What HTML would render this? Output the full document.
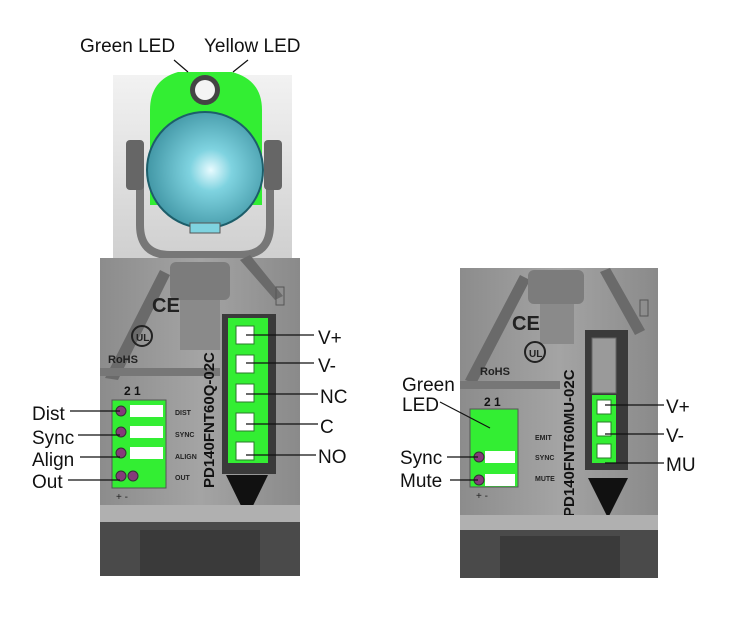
<!DOCTYPE html>
<html><head><meta charset="utf-8"><style>
html,body{margin:0;padding:0;background:#fff;width:730px;height:629px;overflow:hidden}
text{font-family:"Liberation Sans",Arial,sans-serif}
.lb{font-size:19px;fill:#111}
</style></head><body>
<svg width="730" height="629" viewBox="0 0 730 629" xmlns="http://www.w3.org/2000/svg">
<defs>
<linearGradient id="bg1" x1="0" y1="0" x2="0" y2="1"><stop offset="0" stop-color="#f2f2f2"/><stop offset="1" stop-color="#cfcfcf"/></linearGradient>
<radialGradient id="lens" cx="0.55" cy="0.5" r="0.6"><stop offset="0" stop-color="#e8fbff"/><stop offset="0.3" stop-color="#7fd3e0"/><stop offset="1" stop-color="#3a8f9e"/></radialGradient>
<linearGradient id="body" x1="0" y1="0" x2="1" y2="0"><stop offset="0" stop-color="#8c8c8c"/><stop offset="0.5" stop-color="#a4a4a4"/><stop offset="1" stop-color="#8a8a8a"/></linearGradient>
</defs>

<!-- LEFT DEVICE -->
<rect x="113" y="75" width="179" height="185" fill="url(#bg1)"/>
<path d="M140 150 L140 225 Q140 255 170 255 L240 255 Q270 255 270 225 L270 150" fill="none" stroke="#777" stroke-width="8"/>
<rect x="126" y="140" width="18" height="50" rx="4" fill="#666"/>
<rect x="264" y="140" width="18" height="50" rx="4" fill="#666"/>
<path d="M150 110 Q150 80 178 72 L232 72 Q262 80 262 110 L262 205 L150 205 Z" fill="#33ee33"/>
<circle cx="205" cy="90" r="15" fill="#444"/><circle cx="205" cy="90" r="10" fill="#f4f4f4"/>
<circle cx="205" cy="170" r="58" fill="url(#lens)" stroke="#1d5e6a" stroke-width="2"/>
<rect x="190" y="223" width="30" height="10" fill="#7fd3e0" stroke="#555"/>
<rect x="100" y="258" width="200" height="318" fill="url(#body)"/>
<path d="M105 378 L160 270 L170 275 L118 380 Z M275 300 L240 260 L250 255 L283 296 Z" fill="#6a6a6a"/>
<rect x="170" y="262" width="60" height="38" rx="6" fill="#7c7c7c"/>
<rect x="180" y="300" width="40" height="50" fill="#8a8a8a"/>
<text x="152" y="312" font-size="20" font-weight="bold" fill="#222">CE</text>
<circle cx="142" cy="336" r="10" fill="none" stroke="#222" stroke-width="2"/><text x="136" y="341" font-size="10" font-weight="bold" fill="#222">UL</text>
<text x="108" y="363" font-size="11" font-weight="bold" fill="#222">RoHS</text>
<rect x="100" y="368" width="120" height="8" fill="#777"/>
<rect x="276" y="287" width="8" height="18" fill="none" stroke="#555"/>
<text x="124" y="395" font-size="12" font-weight="bold" fill="#111">2  1</text>
<rect x="112" y="400" width="54" height="88" fill="#33ee33" stroke="#555"/>
<g fill="#fff"><rect x="130" y="405" width="33" height="12"/><rect x="130" y="426" width="33" height="12"/><rect x="130" y="447" width="33" height="12"/></g>
<g fill="#853b7a" stroke="#333"><circle cx="121" cy="411" r="5"/><circle cx="121" cy="432" r="5"/><circle cx="121" cy="453" r="5"/><circle cx="121" cy="476" r="5"/><circle cx="133" cy="476" r="5"/></g>
<g font-size="7" font-weight="bold" fill="#222"><text x="175" y="415">DIST</text><text x="175" y="437">SYNC</text><text x="175" y="459">ALIGN</text><text x="175" y="480">OUT</text></g>
<text x="116" y="500" font-size="10" fill="#222">+  -</text>
<text transform="translate(214,488) rotate(-90)" font-size="15" font-weight="bold" fill="#111">PD140FNT60Q-02C</text>
<rect x="222" y="314" width="54" height="160" fill="#3a3a3a"/>
<rect x="228" y="318" width="40" height="145" fill="#33ee33"/>
<g fill="#fff" stroke="#2a7a2a"><rect x="236" y="326" width="18" height="18"/><rect x="236" y="355" width="18" height="18"/><rect x="236" y="384" width="18" height="18"/><rect x="236" y="413" width="18" height="18"/><rect x="236" y="442" width="18" height="18"/></g>
<path d="M226 475 L268 475 L247 518 Z" fill="#111"/>
<rect x="100" y="505" width="200" height="18" fill="#b0b0b0"/>
<rect x="100" y="522" width="200" height="54" fill="#4a4a4a"/>
<rect x="140" y="530" width="120" height="46" fill="#3a3a3a"/>

<!-- RIGHT DEVICE -->
<rect x="460" y="268" width="198" height="310" fill="url(#body)"/>
<path d="M465 380 L520 275 L530 280 L476 384 Z M635 335 L600 272 L610 268 L645 330 Z" fill="#6a6a6a"/>
<rect x="528" y="270" width="56" height="34" rx="6" fill="#7c7c7c"/>
<rect x="540" y="304" width="34" height="40" fill="#8a8a8a"/>
<text x="512" y="330" font-size="20" font-weight="bold" fill="#222">CE</text>
<circle cx="535" cy="352" r="10" fill="none" stroke="#222" stroke-width="2"/><text x="529" y="357" font-size="10" font-weight="bold" fill="#222">UL</text>
<text x="480" y="375" font-size="11" font-weight="bold" fill="#222">RoHS</text>
<rect x="460" y="381" width="100" height="8" fill="#777"/>
<rect x="640" y="300" width="8" height="16" fill="none" stroke="#555"/>
<text x="484" y="406" font-size="12" font-weight="bold" fill="#111">2  1</text>
<rect x="470" y="409" width="48" height="78" fill="#33ee33" stroke="#555"/>
<g fill="#fff"><rect x="485" y="451" width="30" height="12"/><rect x="485" y="474" width="30" height="12"/></g>
<g fill="#853b7a" stroke="#333"><circle cx="479" cy="457" r="5"/><circle cx="479" cy="480" r="5"/></g>
<g font-size="7" font-weight="bold" fill="#222"><text x="535" y="440">EMIT</text><text x="535" y="460">SYNC</text><text x="535" y="481">MUTE</text></g>
<text x="476" y="499" font-size="10" fill="#222">+  -</text>
<text transform="translate(574,517) rotate(-90)" font-size="15" font-weight="bold" fill="#111">PD140FNT60MU-02C</text>
<rect x="585" y="330" width="43" height="140" fill="#3a3a3a"/>
<rect x="592" y="338" width="24" height="55" fill="#9a9a9a" stroke="#666"/>
<rect x="592" y="395" width="24" height="68" fill="#33ee33"/>
<g fill="#fff" stroke="#2a7a2a"><rect x="597" y="400" width="14" height="14"/><rect x="597" y="422" width="14" height="14"/><rect x="597" y="444" width="14" height="14"/></g>
<path d="M588 478 L628 478 L608 518 Z" fill="#111"/>
<rect x="460" y="515" width="198" height="16" fill="#b0b0b0"/>
<rect x="460" y="530" width="198" height="48" fill="#4a4a4a"/>
<rect x="500" y="536" width="120" height="42" fill="#3a3a3a"/>

<g stroke="#111" stroke-width="1.2">
<line x1="174" y1="60" x2="188" y2="72"/><line x1="248" y1="60" x2="233" y2="72"/>
<line x1="70" y1="411" x2="120" y2="411"/><line x1="78" y1="435" x2="120" y2="435"/><line x1="80" y1="457" x2="120" y2="457"/><line x1="68" y1="480" x2="120" y2="480"/>
<line x1="246" y1="335" x2="314" y2="335"/><line x1="246" y1="363" x2="314" y2="363"/><line x1="246" y1="394" x2="318" y2="394"/><line x1="246" y1="424" x2="318" y2="424"/><line x1="246" y1="455" x2="316" y2="455"/>
<line x1="440" y1="402" x2="490" y2="428"/><line x1="447" y1="457" x2="478" y2="457"/><line x1="450" y1="480" x2="478" y2="480"/>
<line x1="605" y1="405" x2="664" y2="405"/><line x1="605" y1="434" x2="664" y2="434"/><line x1="605" y1="463" x2="664" y2="463"/>
</g>
<g>
<text x="80" y="52" class="lb">Green LED</text><text x="204" y="52" class="lb">Yellow LED</text>
<text x="32" y="420" class="lb">Dist</text><text x="32" y="444" class="lb">Sync</text><text x="32" y="466" class="lb">Align</text><text x="32" y="488" class="lb">Out</text>
<text x="318" y="344" class="lb">V+</text><text x="318" y="372" class="lb">V-</text><text x="320" y="403" class="lb">NC</text><text x="320" y="433" class="lb">C</text><text x="318" y="463" class="lb">NO</text>
<text x="402" y="391" class="lb">Green</text><text x="402" y="411" class="lb">LED</text><text x="400" y="464" class="lb">Sync</text><text x="400" y="487" class="lb">Mute</text>
<text x="666" y="413" class="lb">V+</text><text x="666" y="442" class="lb">V-</text><text x="666" y="471" class="lb">MU</text>
</g>
</svg>
</body></html>
